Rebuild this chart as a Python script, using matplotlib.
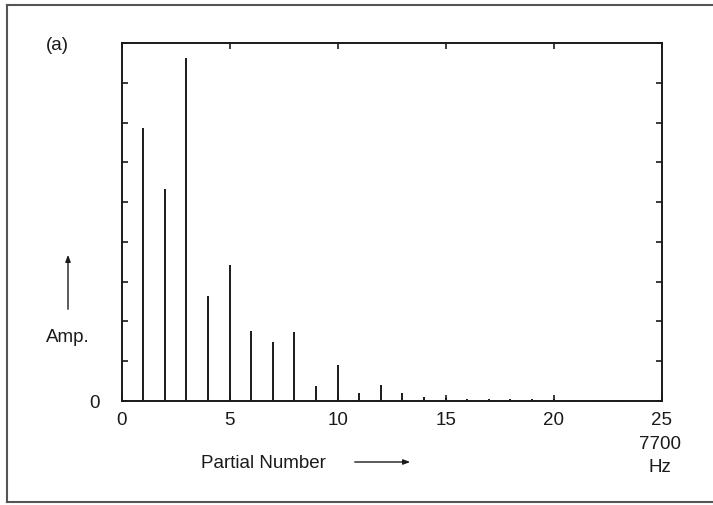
import matplotlib
matplotlib.use("Agg")
import matplotlib.pyplot as plt
from matplotlib.lines import Line2D
from matplotlib.patches import FancyArrowPatch

plt.rcParams['font.family'] = ['Liberation Sans', 'DejaVu Sans']

partials = list(range(1, 25))
amplitudes = [6.87, 5.34, 8.63, 2.65, 3.43, 1.75, 1.48, 1.73, 0.38, 0.91,
              0.21, 0.40, 0.19, 0.11, 0.07, 0.05, 0.05, 0.04, 0.04, 0.06,
              0.03, 0.03, 0.02, 0.02]
x_ticks = [0, 5, 10, 15, 20, 25]
x_tick_labels = ["0", "5", "10", "15", "20", "25"]
y_ticks = [0, 1, 2, 3, 4, 5, 6, 7, 8, 9]
y_tick_labels = ["0", "", "", "", "", "", "", "", "", ""]

W, H = 713, 506
FS = 13.5
fig = plt.figure(figsize=(W / 100, H / 100), dpi=100)
ax = fig.add_axes([121.7 / W, 1 - 402 / H, (661.5 - 121.7) / W, (402 - 44) / H])

ink = '#1a1a1a'
ax.vlines(partials, 0, amplitudes, color=ink, linewidth=1.4)

ax.set_xlim(0, 25)
ax.set_ylim(0, 9)
ax.set_xticks(x_ticks)
ax.set_xticklabels(x_tick_labels, fontsize=FS, color=ink)
ax.set_yticks(y_ticks)
ax.set_yticklabels(y_tick_labels, fontsize=FS, color=ink)
ax.tick_params(axis='both', direction='in', length=4, width=1.2, color=ink,
               top=True, right=True)
ax.tick_params(axis='x', pad=7)
ax.tick_params(axis='y', pad=16)
for s in ax.spines.values():
    s.set_linewidth(1.4)
    s.set_color(ink)

def fx(px):
    return px / W

def fy(py):
    return 1 - py / H

# annotations
fig.text(fx(57), fy(46), "(a)", fontsize=FS, ha='center', va='center', color=ink)
fig.text(fx(68), fy(337), "Amp.", fontsize=FS, ha='center', va='center', color=ink)
fig.add_artist(FancyArrowPatch((fx(68), fy(313)), (fx(68), fy(253)),
                               transform=fig.transFigure, arrowstyle='-|>,head_length=4,head_width=1.5',
                               color=ink, linewidth=1.0, mutation_scale=1))
fig.text(fx(263), fy(463), "Partial Number", fontsize=FS, ha='center', va='center', color=ink)
fig.add_artist(FancyArrowPatch((fx(352), fy(463)), (fx(413), fy(463)),
                               transform=fig.transFigure, arrowstyle='-|>,head_length=4,head_width=1.5',
                               color=ink, linewidth=1.0, mutation_scale=1))
fig.text(fx(660), fy(445), "7700", fontsize=FS, ha='center', va='center', color=ink)
fig.text(fx(660), fy(468), "Hz", fontsize=FS, ha='center', va='center', color=ink)

# outer frame (left, top, bottom)
fc = '#555555'
fig.add_artist(Line2D([fx(7), fx(7)], [fy(6), fy(503)], transform=fig.transFigure, color=fc, linewidth=1.5))
fig.add_artist(Line2D([fx(7), fx(712)], [fy(6), fy(6)], transform=fig.transFigure, color=fc, linewidth=1.5))
fig.add_artist(Line2D([fx(7), fx(712)], [fy(503), fy(503)], transform=fig.transFigure, color=fc, linewidth=1.5))

fig.savefig("out.png", dpi=100)
